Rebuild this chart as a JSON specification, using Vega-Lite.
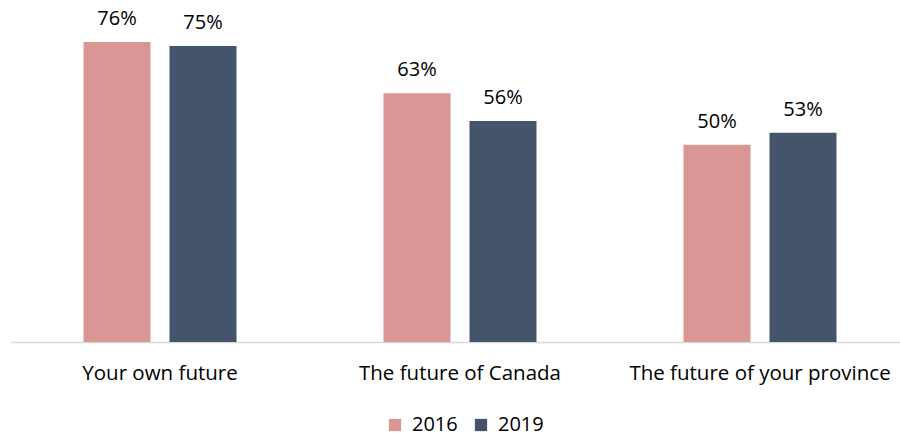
{
  "$schema": "https://vega.github.io/schema/vega-lite/v6.json",
  "autosize": "none",
  "width": 900,
  "height": 300,
  "padding": {"left": 10, "top": 42, "right": 0, "bottom": 120},
  "background": "white",
  "config": {
    "view": {"stroke": null},
    "font": "Open Sans",
    "axis": {"labelFont": "Open Sans", "titleFont": "Open Sans"},
    "legend": {"labelFont": "Open Sans"}
  },
  "data": {
    "values": [
      {"category": "Your own future", "year": "2016", "value": 76},
      {"category": "Your own future", "year": "2019", "value": 75},
      {"category": "The future of Canada", "year": "2016", "value": 63},
      {"category": "The future of Canada", "year": "2019", "value": 56},
      {"category": "The future of your province", "year": "2016", "value": 50},
      {"category": "The future of your province", "year": "2019", "value": 53}
    ]
  },
  "encoding": {
    "x": {
      "field": "category",
      "type": "nominal",
      "sort": null,
      "scale": {"paddingInner": 0.49, "paddingOuter": 0.245},
      "axis": {
        "title": null,
        "labelAngle": 0,
        "labelFontSize": 20.5,
        "labelColor": "#000000",
        "labelPadding": 21,
        "ticks": false,
        "domainColor": "#d9d9d9",
        "domainWidth": 1.5,
        "labelLimit": 400
      }
    },
    "xOffset": {
      "field": "year",
      "type": "nominal",
      "scale": {"paddingInner": 0.221, "paddingOuter": 0}
    },
    "y": {
      "field": "value",
      "type": "quantitative",
      "scale": {"domain": [0, 76]},
      "axis": null
    }
  },
  "layer": [
    {
      "mark": {"type": "bar"},
      "encoding": {
        "color": {
          "field": "year",
          "type": "nominal",
          "scale": {"domain": ["2016", "2019"], "range": ["#d99694", "#44546a"]},
          "legend": {
            "title": null,
            "orient": "none",
            "direction": "horizontal",
            "legendX": 375,
            "legendY": 373,
            "symbolType": "square",
            "symbolSize": 150,
            "symbolStrokeWidth": 0,
            "labelFontSize": 20,
            "labelColor": "#000000",
            "columnPadding": 13,
            "labelOffset": 7
          }
        }
      }
    },
    {
      "transform": [{"calculate": "datum.value + '%'", "as": "label"}],
      "mark": {"type": "text", "baseline": "bottom", "dy": -13, "fontSize": 20, "color": "#000000"},
      "encoding": {
        "text": {"field": "label", "type": "nominal"},
        "detail": {"field": "year"}
      }
    }
  ]
}
